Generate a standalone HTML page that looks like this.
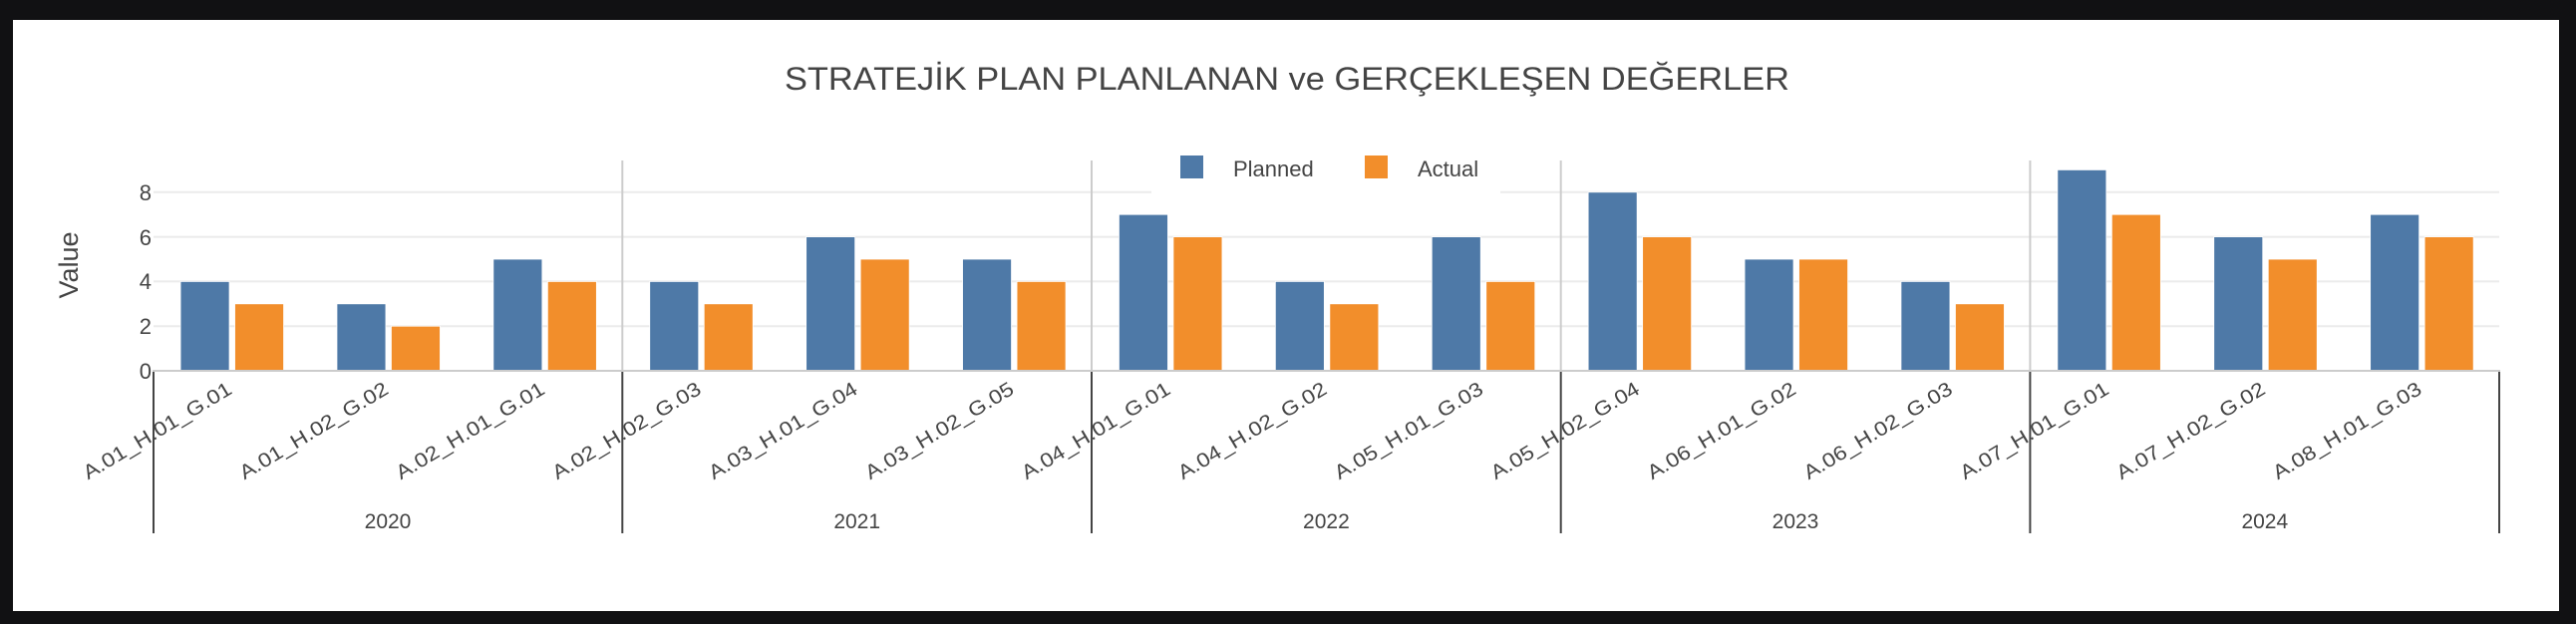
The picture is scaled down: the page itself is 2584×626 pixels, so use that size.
<!DOCTYPE html>
<html><head><meta charset="utf-8"><style>
html,body{margin:0;padding:0;background:#111113;}
svg{display:block;}
text{font-family:"Liberation Sans",sans-serif;fill:#444;}
</style></head><body>
<svg width="2584" height="626" viewBox="0 0 2584 626" xmlns="http://www.w3.org/2000/svg">
<rect x="0" y="0" width="2584" height="626" fill="#111113"/>
<rect x="13" y="20" width="2554" height="593" fill="#fff"/>
<text x="1291" y="90" font-size="32" text-anchor="middle" textLength="1008" lengthAdjust="spacingAndGlyphs">STRATEJİK PLAN PLANLANAN ve GERÇEKLEŞEN DEĞERLER</text>
<g stroke="#ebebeb" stroke-width="2">
<line x1="154" y1="327.2" x2="2507" y2="327.2"/>
<line x1="154" y1="282.4" x2="2507" y2="282.4"/>
<line x1="154" y1="237.6" x2="2507" y2="237.6"/>
<line x1="154" y1="192.8" x2="2507" y2="192.8"/>
</g>
<g stroke="#ccc" stroke-width="2">
<line x1="624.3" y1="161" x2="624.3" y2="372"/>
<line x1="1095" y1="161" x2="1095" y2="372"/>
<line x1="1565.7" y1="161" x2="1565.7" y2="372"/>
<line x1="2036.4" y1="161" x2="2036.4" y2="372"/>
</g>
<g id="bars"></g>
<line x1="153" y1="372" x2="2508" y2="372" stroke="#ccc" stroke-width="2"/>
<g stroke="#444" stroke-width="2">
<line x1="154" y1="373" x2="154" y2="535"/>
<line x1="624.3" y1="373" x2="624.3" y2="535"/>
<line x1="1095" y1="373" x2="1095" y2="535"/>
<line x1="1565.7" y1="373" x2="1565.7" y2="535"/>
<line x1="2036.4" y1="373" x2="2036.4" y2="535"/>
<line x1="2507" y1="373" x2="2507" y2="535"/>
</g>
<g font-size="22" text-anchor="end">
<text x="152" y="380">0</text>
<text x="152" y="335">2</text>
<text x="152" y="290">4</text>
<text x="152" y="246">6</text>
<text x="152" y="201">8</text>
</g>
<text x="0" y="0" font-size="27" text-anchor="middle" transform="translate(78,266) rotate(-90)">Value</text>
<g font-size="21" text-anchor="middle">
<text x="389" y="530">2020</text>
<text x="859.7" y="530">2021</text>
<text x="1330.4" y="530">2022</text>
<text x="1801" y="530">2023</text>
<text x="2271.8" y="530">2024</text>
</g>
<g id="ticks" font-size="20" text-anchor="end"></g>
<rect x="1155" y="148" width="350" height="46" fill="#fff"/>
<rect x="1184" y="156" width="23" height="23" fill="#4e79a7"/>
<text x="1237" y="177" font-size="22">Planned</text>
<rect x="1369" y="156" width="23" height="23" fill="#f28e2b"/>
<text x="1422" y="177" font-size="22">Actual</text>
</svg>
<script>
var P=[4,3,5,4,6,5,7,4,6,8,5,4,9,6,7],A=[3,2,4,3,5,4,6,3,4,6,5,3,7,5,6];
var L=["A.01_H.01_G.01","A.01_H.02_G.02","A.02_H.01_G.01","A.02_H.02_G.03","A.03_H.01_G.04","A.03_H.02_G.05","A.04_H.01_G.01","A.04_H.02_G.02","A.05_H.01_G.03","A.05_H.02_G.04","A.06_H.01_G.02","A.06_H.02_G.03","A.07_H.01_G.01","A.07_H.02_G.02","A.08_H.01_G.03"];
var ns="http://www.w3.org/2000/svg",b=document.getElementById("bars"),t=document.getElementById("ticks");
function r(x,v,c){var e=document.createElementNS(ns,"rect");var h=22.4*v;e.setAttribute("x",x);e.setAttribute("y",372-h);e.setAttribute("width",49);e.setAttribute("height",h);e.setAttribute("fill",c);e.setAttribute("stroke","#fff");e.setAttribute("stroke-width","0.8");b.appendChild(e);}
for(var i=0;i<15;i++){var cx=153.6+(i+0.5)*156.9;r(cx-51,P[i],"#4e79a7");r(cx+3.5,A[i],"#f28e2b");
var e=document.createElementNS(ns,"text");e.setAttribute("transform","translate("+(cx+2)+",394) rotate(-31)");e.setAttribute("textLength","170");e.setAttribute("lengthAdjust","spacingAndGlyphs");e.textContent=L[i];t.appendChild(e);}
</script>
</body></html>
